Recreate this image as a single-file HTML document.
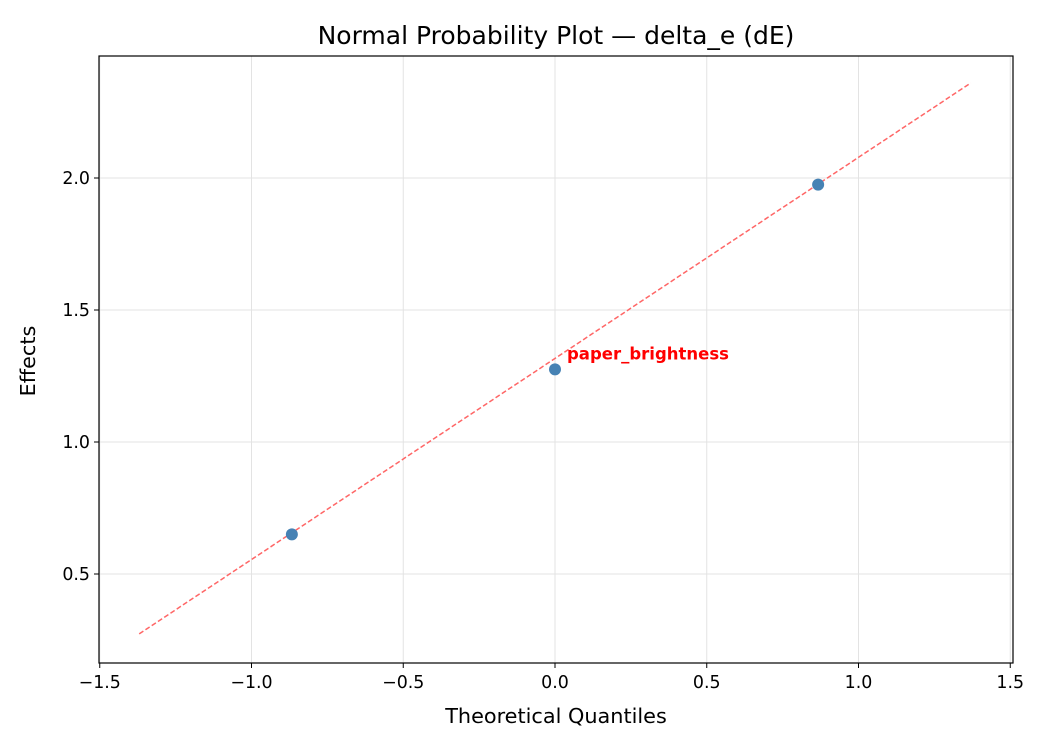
<!DOCTYPE html>
<html><head><meta charset="utf-8"><style>
body{margin:0;background:#fff;}
svg{display:block;font-family:"DejaVu Sans","Liberation Sans",sans-serif;}
</style></head><body>
<svg id="chart" width="1050" height="750" viewBox="0 0 1050 750" style="position:absolute;left:0;top:0;"></svg>
<script>
const xTicks=[-1.5,-1.0,-0.5,0.0,0.5,1.0,1.5];
const xTickLabels=["−1.5","−1.0","−0.5","0.0","0.5","1.0","1.5"];
const yTicks=[0.5,1.0,1.5,2.0];
const yTickLabels=["0.5","1.0","1.5","2.0"];
const quantiles=[-0.867,0.0,0.867];
const effects=[0.65,1.275,1.975];
const pointLabels=["","paper_brightness",""];
const fitX=[-1.37,1.37];
const fitY=[0.273,2.36];

const L=99,R=1013,T=56,B=663;
const xs=v=>555+v*303.5;
const ys=v=>442-(v-1)*264;
const svg=document.getElementById('chart');
const NS='http://www.w3.org/2000/svg';
function mk(tag,attrs,parent){const e=document.createElementNS(NS,tag);for(const k in attrs)e.setAttribute(k,attrs[k]);(parent||svg).appendChild(e);return e;}

const grid=mk('g',{});


xTicks.forEach(v=>{mk('line',{x1:xs(v),x2:xs(v),y1:T,y2:B,stroke:'#e3e3e3','stroke-width':1},grid);});
yTicks.forEach(v=>{mk('line',{x1:L,x2:R,y1:ys(v),y2:ys(v),stroke:'#e3e3e3','stroke-width':1},grid);});

const fit=mk('line',{x1:xs(fitX[0]),y1:ys(fitY[0]),x2:xs(fitX[1]),y2:ys(fitY[1]),stroke:'#ff6666','stroke-width':1.5,'stroke-dasharray':'5,2.5'});



quantiles.forEach((q,i)=>{
  const c=mk('circle',{cx:xs(q),cy:ys(effects[i]),r:6,fill:'#4682b4'});
  
  
  if(pointLabels[i]){
    const t=mk('text',{x:xs(q)+12,y:ys(effects[i])-10,fill:'#ff0000','font-size':16.5,'font-weight':'bold'});
    t.textContent=pointLabels[i];
    
    
  }
});

const frame=mk('rect',{x:L,y:T,width:R-L,height:B-T,fill:'none',stroke:'#000','stroke-width':1.2});



xTicks.forEach((v,i)=>{
  mk('line',{x1:xs(v),x2:xs(v),y1:B,y2:B+5,stroke:'#000'});
  const t=mk('text',{x:xs(v),y:B+25,'text-anchor':'middle','font-size':17.4});
  t.textContent=xTickLabels[i];
  
  
});
yTicks.forEach((v,i)=>{
  mk('line',{x1:L-5,x2:L,y1:ys(v),y2:ys(v),stroke:'#000'});
  const t=mk('text',{x:L-9,y:ys(v)+6,'text-anchor':'end','font-size':17.4});
  t.textContent=yTickLabels[i];
  
  
});
</script>
<div style="position:absolute;left:0;top:0;width:1050px;height:750px;pointer-events:none;">
<svg width="1050" height="750" style="font-family:'DejaVu Sans','Liberation Sans',sans-serif;">
<text x="556" y="44" text-anchor="middle" font-size="25">Normal Probability Plot — delta_e (dE)</text>
<text x="556" y="723" text-anchor="middle" font-size="20.8">Theoretical Quantiles</text>
<text x="35" y="361" text-anchor="middle" font-size="20.8" transform="rotate(-90 35 361)">Effects</text>
</svg></div>
</body></html>
